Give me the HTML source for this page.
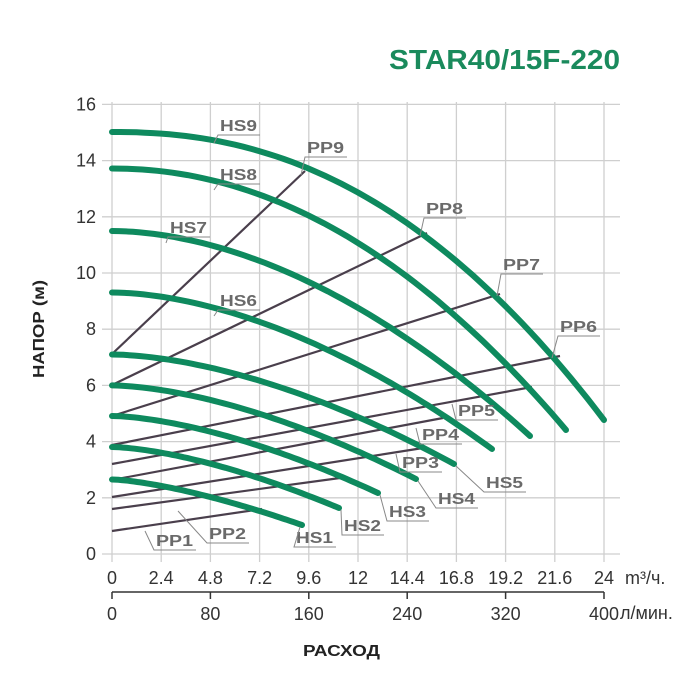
<!DOCTYPE html>
<html><head><meta charset="utf-8"><style>
body{margin:0;background:#fff;}
svg{display:block;font-family:"Liberation Sans",sans-serif;}
.t{fill:#6a6a6a;font-size:16px;font-weight:bold;}
.k{fill:#333;font-size:18px;}
</style></head><body>
<svg id="s" width="700" height="689" viewBox="0 0 700 689" xmlns="http://www.w3.org/2000/svg">
<text x="389" y="69" textLength="231" lengthAdjust="spacingAndGlyphs" fill="#1a8a5c" font-size="28" font-weight="bold">STAR40/15F-220</text>
<g id="grid" stroke="#cfcfcf" stroke-width="1.3"></g>
<g id="pp" stroke="#4a3f4c" stroke-width="2.2" fill="none"></g>
<g id="hs" stroke="#0e8a5e" stroke-width="6" fill="none" stroke-linecap="round"></g>
<g id="lab"></g>
<g id="ax"></g>
<line x1="112" y1="592" x2="604" y2="592" stroke="#333" stroke-width="1.5"/>
<text x="0" y="0" transform="translate(44,329) rotate(-90)" x="-49" textLength="98" lengthAdjust="spacingAndGlyphs" font-size="16" font-weight="bold" fill="#222"><tspan x="-49">НАПОР (м)</tspan></text>
<text x="303" y="656" textLength="77" lengthAdjust="spacingAndGlyphs" font-size="16" font-weight="bold" fill="#222">РАСХОД</text>
<text x="625" y="584" class="k">m³/ч.</text>
<text x="620" y="619" class="k">л/мин.</text>
</svg>
<script>
var NS="http://www.w3.org/2000/svg";
function el(p,t,a,txt){var e=document.createElementNS(NS,t);for(var k in a)e.setAttribute(k,a[k]);if(txt!==undefined)e.textContent=txt;document.getElementById(p).appendChild(e);return e;}
var X=function(v){return 112+v*20.5;},Y=function(v){return 554-v*28.1;};
for(var i=0;i<=10;i++){var x=X(i*2.4);el('grid','line',{x1:x,y1:102,x2:x,y2:562});
 el('ax','text',{x:x,y:584,'text-anchor':'middle','class':'k'},i==0?'0':(Math.round(i*2.4*10)/10+''));}
for(var j=0;j<=8;j++){var y=Y(j*2);el('grid','line',{x1:102,y1:y,x2:620,y2:y});
 el('ax','text',{x:96,y:y+6,'text-anchor':'end','class':'k'},j*2+'');}
for(var m=0;m<=5;m++){var x=112+m*98.4;el('ax','line',{x1:x,y1:592,x2:x,y2:599,stroke:'#333','stroke-width':1.5});
 el('ax','text',{x:x,y:620,'text-anchor':'middle','class':'k'},m*80+'');}
var pp=[[354,305,171],[385,427,233],[416,500,294],[445,560,356],[464,532,387],[480,443,418],[497,423,448],[509,340,478],[531,262,509]];
pp.forEach(function(p){el('pp','line',{x1:112,y1:p[0],x2:p[1],y2:p[2]});});
var hs=[[479.5,302,525,1.45],[447,339,508,1.55],[416,378,493,1.6],[385.4,416,479,1.65],[354.5,454,464,1.7],[292.5,492,449,1.77],[231,530,436,1.85],[168.5,566,430,2.05],[132,604,420,2.25]];
hs.forEach(function(h){var d='';for(var k=0;k<=60;k++){var t=k/60;var x=112+(h[1]-112)*t;var y=h[0]+(h[2]-h[0])*Math.pow(t,h[3]);d+=(k?'L':'M')+x.toFixed(1)+','+y.toFixed(1);}el('hs','path',{d:d});});
var L=[['HS9',220,131,214,143],['HS8',220,180,214,190],['HS7',170,233,166,243],['HS6',220,306,214,316],
['PP9',307,153,301,175],['PP8',426,214,420,236],['PP7',503,270,497,296],['PP6',560,332,552,358],
['PP5',458,416,452,404],['PP4',422,440,416,428],['PP3',402,468,396,454],
['HS5',486,488,456,466],['HS4',438,504,418,481],['HS3',389,517,380,495],['HS2',344,531,341,510],['HS1',296,543,300,527],
['PP2',209,539,178,511],['PP1',156,546,145,531]];
L.forEach(function(l){var w=42;var ux=l[1]-2;var uy=l[2]+4;
 el('lab','text',{x:l[1],y:l[2],'class':'t',textLength:37,lengthAdjust:'spacingAndGlyphs'},l[0]);
 el('lab','polyline',{points:l[3]+','+l[4]+' '+ux+','+uy+' '+(ux+w)+','+uy,stroke:'#888','stroke-width':1,fill:'none'});});
</script>
</body></html>
